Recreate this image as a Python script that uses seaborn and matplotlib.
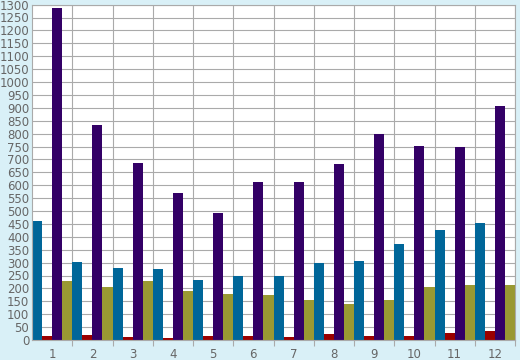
import pandas as pd
import numpy as np
import seaborn as sns
import matplotlib.pyplot as plt
from matplotlib.ticker import MultipleLocator, FixedLocator

# values, one list per series
groups = [str(i) for i in range(1, 13)]
series_names = ["blue", "red", "purple", "olive"]
blue_vals = [460, 303, 279, 275, 233, 249, 248, 299, 306, 372, 426, 453]
red_vals = [15, 19, 12, 8, 15, 15, 12, 23, 15, 15, 27, 35]
purple_vals = [1285, 834, 686, 570, 492, 612, 612, 682, 800, 752, 749, 908]
olive_vals = [229, 205, 229, 190, 178, 175, 155, 140, 155, 205, 213, 213]
colors = ["#006699", "#990000", "#330066", "#999933"]

df = pd.DataFrame({
    "group": groups * 4,
    "series": np.repeat(series_names, len(groups)),
    "value": blue_vals + red_vals + purple_vals + olive_vals,
})

bg = "#d9f0f7"
grid_c = "#aaaaaa"
text_c = "#666666"

fig = plt.figure(figsize=(5.2, 3.6), dpi=100, facecolor=bg)
ax = fig.add_axes([32 / 520, 20 / 360, 483 / 520, 335.4 / 360])
ax.set_facecolor("white")

sns.barplot(data=df, x="group", y="value", hue="series", order=groups,
            hue_order=series_names, palette=colors, width=1.0, gap=0,
            saturation=1, linewidth=0, ax=ax, legend=False)

ax.set_xlim(-0.5, 11.5)
ax.set_ylim(0, 1300)
ax.yaxis.set_major_locator(MultipleLocator(50))
ax.xaxis.set_minor_locator(FixedLocator(np.arange(0.5, 11.6, 1)))
ax.set_axisbelow(True)
ax.grid(axis="y", which="major", color=grid_c, linewidth=0.8)
ax.grid(axis="x", which="minor", color=grid_c, linewidth=0.8)
ax.grid(axis="x", which="major", visible=False)

ax.tick_params(axis="x", which="major", length=0, labelsize=8.5, labelcolor=text_c, pad=6)
ax.tick_params(axis="x", which="minor", length=4, color=grid_c, width=0.8)
ax.tick_params(axis="y", which="major", length=0, labelsize=8.5, labelcolor=text_c, pad=2)
for s in ax.spines.values():
    s.set_color(grid_c)
    s.set_linewidth(0.8)
ax.set_xlabel("")
ax.set_ylabel("")

fig.savefig("out.png", dpi=100, facecolor=bg)
plt.close(fig)
